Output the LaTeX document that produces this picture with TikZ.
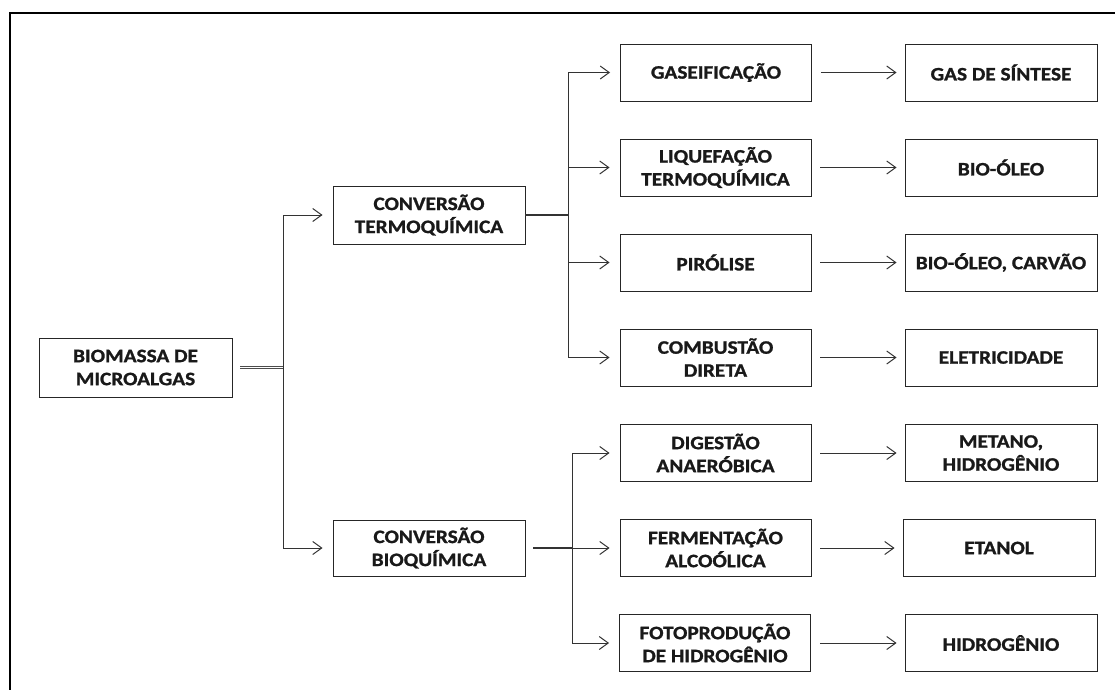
\documentclass[tikz,border=0pt]{standalone}
\usepackage{fontspec}
\setmainfont{Carlito}[BoldFeatures={FakeStretch=1.12,FakeBold=1.2}]
\usetikzlibrary{arrows.meta}
\begin{document}
\begin{tikzpicture}[x=1pt,y=-1pt,
  box/.style={draw=black!85, line width=0.9pt, minimum width=192pt, minimum height=57pt,
    inner sep=0pt, align=center, font=\fontsize{19}{23}\selectfont\bfseries, text=black!90},
  ln/.style={draw=black!80, line width=1pt},
  arr/.style={ln, -{Straight Barb[length=9pt,width=13pt,line width=1pt]}},
  dbl/.style={draw=black!70, line width=0.8pt, double=white, double distance=0.8pt}]
\useasboundingbox (0,0) rectangle (1115,689);
\begin{scope}
\clip (0,0) rectangle (1115,689);
\draw[line width=2pt] (10.3,720) -- (10.3,13.3) -- (1140,13.3);
\end{scope}
% nodes
\node[box, minimum width=193pt, minimum height=59pt] (bio) at (135.5,367.5) {BIOMASSA DE\\MICROALGAS};
\node[box, minimum height=58pt] (termo) at (429,215) {CONVERSÃO\\TERMOQUÍMICA};
\node[box, minimum height=56pt] (bioq) at (429,548) {CONVERSÃO\\BIOQUÍMICA};
\node[box, minimum width=191pt] (gas) at (716,72.5) {GASEIFICAÇÃO};
\node[box, minimum width=191pt] (liq) at (715.5,167.5) {LIQUEFAÇÃO\\TERMOQUÍMICA};
\node[box, minimum width=191pt] (pir) at (715.5,262.5) {PIRÓLISE};
\node[box, minimum width=191pt] (comb) at (715.5,357.5) {COMBUSTÃO\\DIRETA};
\node[box, minimum width=191pt] (dig) at (715.5,453) {DIGESTÃO\\ANAERÓBICA};
\node[box, minimum width=191pt] (ferm) at (715.5,548) {FERMENTAÇÃO\\ALCOÓLICA};
\node[box, minimum width=191pt] (foto) at (715,643) {FOTOPRODUÇÃO\\DE HIDROGÊNIO};
\node[box] (sint) at (1001,72.5) {GAS DE SÍNTESE};
\node[box] (oleo) at (1001,167.5) {BIO-ÓLEO};
\node[box] (carv) at (1001,262.5) {BIO-ÓLEO, CARVÃO};
\node[box] (elet) at (1001,357.5) {ELETRICIDADE};
\node[box] (met) at (1001,453) {METANO,\\HIDROGÊNIO};
\node[box] (etan) at (999,548) {ETANOL};
\node[box] (hid) at (1001,643) {HIDROGÊNIO};
% junctions
\coordinate (j1) at (283,367.5);
\coordinate (j2) at (568,215);
\coordinate (j3) at (572,548);
% connectors
\draw[dbl] ([xshift=8pt]bio.east) -- (j1);
\draw[arr] (j1) |- ([xshift=-10pt]termo.west);
\draw[arr] (j1) |- ([xshift=-10pt]bioq.west);
\draw[ln, line width=1.4pt] (termo.east) -- (j2);
\foreach \n in {gas,liq,pir,comb}{
  \draw[arr] (j2) |- ([xshift=-10pt]\n.west);
}
\draw[ln, line width=1.4pt] ([xshift=8pt]bioq.east) -- (j3);
\foreach \n in {dig,ferm,foto}{
  \draw[arr] (j3) |- ([xshift=-10pt]\n.west);
}
\foreach \a/\b in {gas/sint,liq/oleo,pir/carv,comb/elet,dig/met,ferm/etan,foto/hid}{
  \draw[arr] ([xshift=9pt]\a.east) -- ([xshift=-8pt]\b.west);
}
\end{tikzpicture}
\end{document}
